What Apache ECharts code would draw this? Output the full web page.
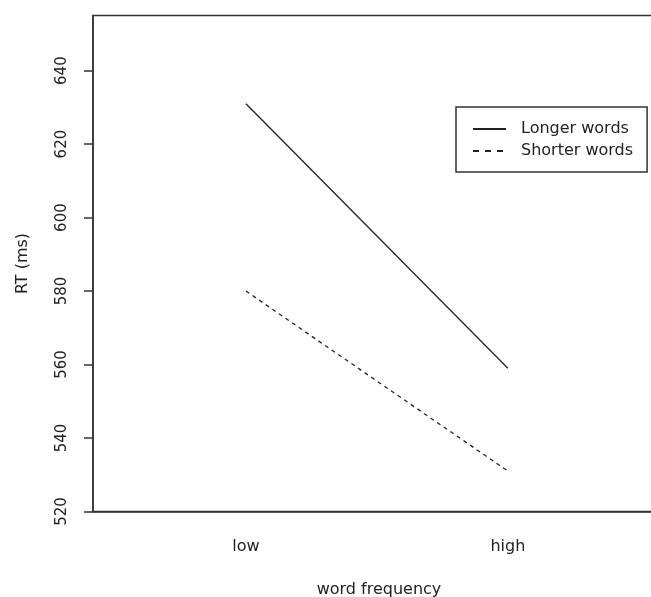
<!DOCTYPE html>
<html>
<head>
<meta charset="utf-8">
<script src="https://cdn.jsdelivr.net/npm/echarts@6/dist/echarts.min.js"></script>
<style>
  html, body { margin: 0; padding: 0; background: #fff; }
  #chart { width: 651px; height: 597px; }
</style>
</head>
<body>
<div id="chart"></div>
<script>
// word frequency levels (x positions 1, 2)
const categories = ['low', 'high'];
const longerWords = [631, 559];
const shorterWords = [580, 531];
const yTicks = [520, 540, 560, 580, 600, 620, 640];

const font = 'DejaVu Sans, sans-serif';
const ink = '#333';

function toPoints(vals) {
    return vals.map((v, i) => [i + 1, v]);
}

const chart = echarts.init(document.getElementById('chart'));
chart.setOption({
    animation: false,
    backgroundColor: '#fff',
    grid: {
        left: 93,
        top: 15.5,
        bottom: 85.5,
        right: -14,
        outerBoundsMode: 'none',
        containLabel: false,
        show: true,
        borderColor: ink,
        borderWidth: 1.5,
        backgroundColor: 'transparent'
    },
    xAxis: {
        type: 'value',
        min: 0.416,
        max: 2.6,
        name: 'word frequency',
        nameLocation: 'middle',
        nameGap: 70,
        nameTextStyle: { color: '#222', fontFamily: font, fontSize: 16 },
        splitLine: { show: false },
        axisTick: { show: false },
        axisLine: { show: true, lineStyle: { color: ink, width: 1.5 } },
        axisLabel: {
            customValues: [1, 2],
            formatter: v => categories[Math.round(v) - 1] || '',
            margin: 27,
            color: '#222',
            fontFamily: font,
            fontSize: 16
        }
    },
    yAxis: {
        type: 'value',
        min: 520,
        max: 655,
        interval: 20,
        name: 'RT (ms)',
        nameLocation: 'middle',
        nameGap: 62,
        nameRotate: 90,
        nameTextStyle: { color: '#222', fontFamily: font, fontSize: 16 },
        splitLine: { show: false },
        axisLine: { show: true, lineStyle: { color: ink, width: 1.5 } },
        axisTick: {
            show: true,
            length: 9,
            customValues: yTicks,
            lineStyle: { color: ink, width: 1.5 }
        },
        axisLabel: {
            customValues: yTicks,
            rotate: 90,
            margin: 23,
            color: '#222',
            fontFamily: font,
            fontSize: 15
        }
    },
    legend: {
        left: 456,
        top: 107,
        orient: 'vertical',
        padding: [14, 14, 13, 16],
        itemGap: 6,
        itemWidth: 33,
        itemHeight: 14,
        borderColor: ink,
        borderWidth: 1.5,
        borderRadius: 0,
        itemStyle: { opacity: 0 },
        textStyle: { color: '#222', fontFamily: font, fontSize: 16, padding: [0, 0, 0, 10] },
        data: [
            { name: 'Longer words' },
            { name: 'Shorter words', lineStyle: { type: [6, 6] } }
        ]
    },
    series: [
        {
            name: 'Longer words',
            type: 'line',
            symbol: 'none',
            data: toPoints(longerWords),
            lineStyle: { color: '#222', width: 1.3, type: 'solid' },
            itemStyle: { color: '#222' }
        },
        {
            name: 'Shorter words',
            type: 'line',
            symbol: 'none',
            data: toPoints(shorterWords),
            lineStyle: { color: '#222', width: 1.3, type: [4, 4] },
            itemStyle: { color: '#222' }
        }
    ]
});
</script>
</body>
</html>
